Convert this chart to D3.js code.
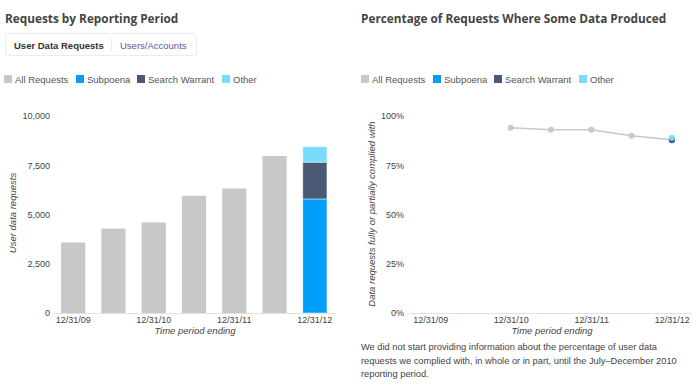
<!DOCTYPE html>
<html>
<head>
<meta charset="utf-8">
<style>
  body { margin: 0; background: #fff; }
  text { font-family: "Liberation Sans", Arial, sans-serif; fill: #444; }
  .title { font-family: "Open Sans", Lato, sans-serif; font-weight: bold; font-size: 11.8px; fill: #444; }
  .tick text { font-size: 9px; fill: #444; }
  .axis-title { font-size: 9.5px; font-style: italic; }
  .legend text { font-size: 9.5px; fill: #555; }
  .note { font-size: 9.3px; fill: #444; }
</style>
<script src="https://cdn.jsdelivr.net/npm/d3@7"></script>
</head>
<body>
<div id="canvas"></div>
<script>
// reporting periods (end dates)
var periods = ["12/31/09", "6/30/10", "12/31/10", "6/30/11", "12/31/11", "6/30/12", "12/31/12"];
var tick_periods = ["12/31/09", "12/31/10", "12/31/11", "12/31/12"];

// user data requests
var all_requests = [3580, 4287, 4601, 5950, 6321, 7969, null];
var subpoena = [null, null, null, null, null, null, 5790];
var search_warrant = [null, null, null, null, null, null, 1865];
var other = [null, null, null, null, null, null, 785];

// percentage where some data produced
var all_pct = [null, null, 0.94, 0.93, 0.93, 0.90, 0.88];
var subpoena_pct = [null, null, null, null, null, null, 0.88];
var warrant_pct = [null, null, null, null, null, null, 0.877];
var other_pct = [null, null, null, null, null, null, 0.89];

var left_ticks = [0, 2500, 5000, 7500, 10000];
var right_ticks = [0, 0.25, 0.5, 0.75, 1];

var legend_items = ["All Requests", "Subpoena", "Search Warrant", "Other"];
var colors = { "All Requests": "#c8c8c8", "Subpoena": "#009ef9", "Search Warrant": "#4b5a74", "Other": "#78dcfd" };

var W = 700, H = 385;
var y_top = 116, y_bot = 313;

var svg = d3.select("#canvas").append("svg").attr("width", W).attr("height", H);

// ---- titles
svg.append("text").attr("class", "title").attr("x", 5).attr("y", 23).text("Requests by Reporting Period");
svg.append("text").attr("class", "title").attr("x", 361).attr("y", 23).text("Percentage of Requests Where Some Data Produced");

// ---- tabs
var tabs = svg.append("g");
tabs.append("rect").attr("x", 5.5).attr("y", 33.5).attr("width", 191).attr("height", 22)
    .attr("fill", "#fff").attr("stroke", "#ececec").attr("rx", 2);
tabs.append("line").attr("x1", 111.5).attr("x2", 111.5).attr("y1", 38).attr("y2", 51).attr("stroke", "#eee");
tabs.append("text").attr("x", 14).attr("y", 49).style("font-size", "9.5px").style("font-weight", "bold")
    .style("fill", "#333").text("User Data Requests");
tabs.append("text").attr("x", 120).attr("y", 49).style("font-size", "9.5px")
    .style("fill", "#6a4fa8").text("Users/Accounts");

// ---- legends
function drawLegend(x0) {
    var g = svg.append("g").attr("class", "legend").attr("transform", "translate(" + x0 + ",75)");
    var offsets = [0, 72, 133, 218];
    legend_items.forEach(function(d, i) {
        g.append("rect").attr("x", offsets[i]).attr("y", 0).attr("width", 8).attr("height", 8).attr("fill", colors[d]);
        g.append("text").attr("x", offsets[i] + 11).attr("y", 7.5).text(d);
    });
}
drawLegend(4);
drawLegend(361);

// ---- left: bar chart
var xb = d3.scaleBand().domain(periods).range([53, 335]).paddingInner(0.4).paddingOuter(0.2);
var yl = d3.scaleLinear().domain([0, 10000]).range([y_bot, y_top]);

var left_g = svg.append("g");
left_g.append("g").attr("transform", "translate(50,0)")
    .call(d3.axisLeft(yl).tickValues(left_ticks).tickSize(0).tickPadding(0).tickFormat(d3.format(",")))
    .call(function(g) { g.select(".domain").remove(); });

left_g.append("g").attr("transform", "translate(0," + y_bot + ")")
    .call(d3.axisBottom(xb).tickValues(tick_periods).tickSize(0).tickPadding(4))
    .call(function(g) { g.select(".domain").attr("stroke", "#e2e2e2"); });

left_g.selectAll("rect.all").data(periods.filter(function(p, i) { return all_requests[i] != null; }))
    .enter().append("rect").attr("class", "all")
    .attr("x", function(d) { return xb(d); })
    .attr("width", xb.bandwidth())
    .attr("y", function(d) { return yl(all_requests[periods.indexOf(d)]); })
    .attr("height", function(d) { return y_bot - yl(all_requests[periods.indexOf(d)]); })
    .attr("fill", colors["All Requests"]);

// stacked last bar
var stack_rows = periods.map(function(p, i) {
    return { period: p, "Subpoena": subpoena[i] || 0, "Search Warrant": search_warrant[i] || 0, "Other": other[i] || 0 };
});
var stacked = d3.stack().keys(["Subpoena", "Search Warrant", "Other"])(stack_rows);
stacked.forEach(function(layer) {
    left_g.selectAll(null).data(layer.filter(function(d) { return d[1] > d[0]; }))
        .enter().append("rect")
        .attr("x", function(d) { return xb(d.data.period); })
        .attr("width", xb.bandwidth())
        .attr("y", function(d) { return yl(d[1]); })
        .attr("height", function(d) { return yl(d[0]) - yl(d[1]); })
        .attr("fill", colors[layer.key])
        .attr("stroke", "rgba(255,255,255,0.45)").attr("stroke-width", 1);
});

left_g.append("text").attr("class", "axis-title").attr("text-anchor", "middle")
    .attr("x", 195).attr("y", 334).text("Time period ending");
left_g.append("text").attr("class", "axis-title").attr("text-anchor", "middle")
    .attr("transform", "translate(16,213) rotate(-90)").text("User data requests");

// ---- right: line chart
var xp = d3.scalePoint().domain(periods).range([410, 692]).padding(0.5);
var yr = d3.scaleLinear().domain([0, 1]).range([y_bot, y_top]);

var right_g = svg.append("g");
right_g.append("g").attr("transform", "translate(404,0)")
    .call(d3.axisLeft(yr).tickValues(right_ticks).tickSize(0).tickPadding(0).tickFormat(d3.format(".0%")))
    .call(function(g) { g.select(".domain").remove(); });

right_g.append("g").attr("transform", "translate(0," + y_bot + ")")
    .call(d3.axisBottom(xp).tickValues(tick_periods).tickSize(0).tickPadding(4))
    .call(function(g) { g.select(".domain").attr("stroke", "#e2e2e2"); });

var line = d3.line()
    .defined(function(d) { return d != null; })
    .x(function(d, i) { return xp(periods[i]); })
    .y(function(d) { return yr(d); });

var pct_series = [
    { key: "All Requests", values: all_pct },
    { key: "Subpoena", values: subpoena_pct },
    { key: "Search Warrant", values: warrant_pct },
    { key: "Other", values: other_pct }
];

pct_series.forEach(function(s) {
    right_g.append("path").attr("d", line(s.values)).attr("fill", "none")
        .attr("stroke", colors[s.key]).attr("stroke-width", 1.5);
    right_g.selectAll(null).data(s.values.map(function(v, i) { return { v: v, p: periods[i] }; })
            .filter(function(d) { return d.v != null; }))
        .enter().append("circle")
        .attr("cx", function(d) { return xp(d.p); })
        .attr("cy", function(d) { return yr(d.v); })
        .attr("r", 3)
        .attr("fill", colors[s.key]);
});

right_g.append("text").attr("class", "axis-title").attr("text-anchor", "middle")
    .attr("x", 552).attr("y", 334).text("Time period ending");
right_g.append("text").attr("class", "axis-title").attr("text-anchor", "middle")
    .attr("transform", "translate(375,214) rotate(-90)").text("Data requests fully or partially complied with");

// ---- note
var note_lines = [
    "We did not start providing information about the percentage of user data",
    "requests we complied with, in whole or in part, until the July\u2013December 2010",
    "reporting period."
];
svg.append("g").selectAll("text").data(note_lines).enter().append("text")
    .attr("class", "note").attr("x", 361)
    .attr("y", function(d, i) { return 350 + i * 13.5; })
    .text(function(d) { return d; });
</script>
</body>
</html>
